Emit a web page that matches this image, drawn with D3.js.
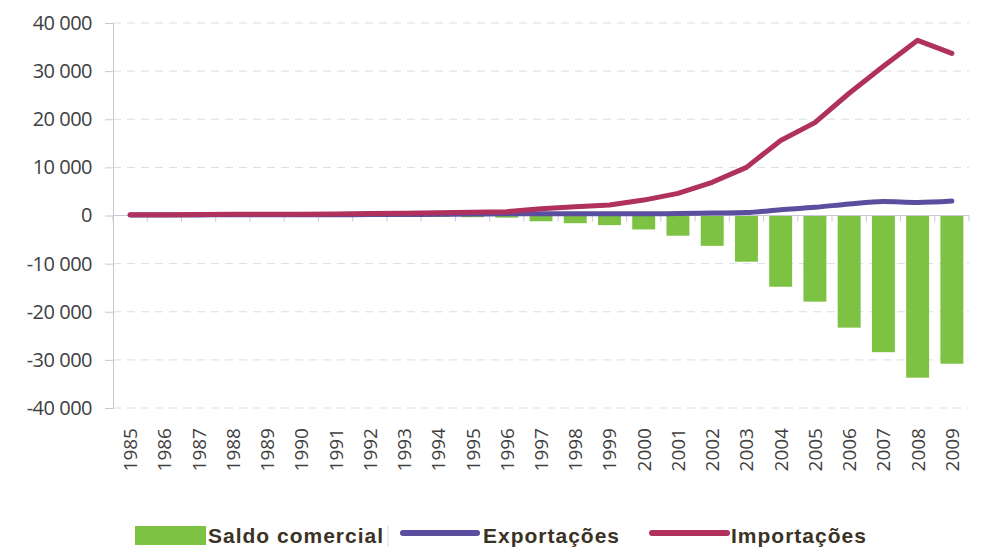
<!DOCTYPE html>
<html>
<head>
<meta charset="utf-8">
<script src="https://cdn.jsdelivr.net/npm/d3@7"></script>
<style>
  body { margin: 0; background: #fff; }
  svg { display: block; }
</style>
</head>
<body>
<script>
// data
var years = ["1985","1986","1987","1988","1989","1990","1991","1992","1993","1994","1995","1996",
             "1997","1998","1999","2000","2001","2002","2003","2004","2005","2006","2007","2008","2009"];
var saldo = [-50, -60, -80, -100, -100, -120, -150, -200, -250, -300, -350, -450,
             -1200, -1600, -2000, -2900, -4200, -6300, -9600, -14800, -17900, -23300, -28400, -33700, -30800];
var exportacoes = [100, 100, 120, 150, 150, 150, 150, 200, 200, 250, 300, 350,
                   350, 350, 350, 350, 400, 500, 600, 1200, 1700, 2400, 2900, 2700, 3000];
var importacoes = [150, 160, 200, 250, 250, 270, 300, 400, 450, 550, 650, 800,
                   1400, 1800, 2200, 3200, 4600, 6900, 10000, 15600, 19300, 25400, 31000, 36400, 33700];
var yTicks = [40000, 30000, 20000, 10000, 0, -10000, -20000, -30000, -40000];

var W = 992, H = 549;
var plotLeft = 113, plotRight = 969, plotTop = 23, plotBottom = 408;

var svg = d3.select("body").append("svg").attr("width", W).attr("height", H);

var x = d3.scaleBand().domain(years).range([plotLeft, plotRight]).paddingInner(0.33).paddingOuter(0.165);
var xb = d3.scaleBand().domain(years).range([plotLeft, plotRight]); // band edges for ticks
var y = d3.scaleLinear().domain([-40000, 40000]).range([plotBottom, plotTop]);

var fmt = function(v) { return d3.format(",")(v).replace(/,/g, " ").replace("−", "-"); };

// dashed gridlines
svg.append("g").selectAll("line").data(yTicks.filter(function(d) { return d !== 0; }))
  .enter().append("line")
  .attr("x1", plotLeft).attr("x2", plotRight)
  .attr("y1", function(d) { return y(d); }).attr("y2", function(d) { return y(d); })
  .attr("stroke", "#dcdce6").attr("stroke-width", 1).attr("stroke-dasharray", "8,6");

// y axis
var yAxis = d3.axisLeft(y).tickValues(yTicks).tickSize(8).tickPadding(13).tickFormat(fmt);
var gy = svg.append("g").attr("transform", "translate(" + plotLeft + ",0)").call(yAxis);
gy.select(".domain").attr("stroke", "#c8c8d4");
gy.selectAll(".tick line").attr("stroke", "#c8c8d4");
gy.selectAll("text").attr("fill", "#404040").style("font-family", "'Open Sans', sans-serif")
  .style("font-size", "20px").style("letter-spacing", "-0.5px");

// bars
svg.append("g").selectAll("rect").data(years).enter().append("rect")
  .attr("x", function(d) { return x(d); })
  .attr("width", x.bandwidth())
  .attr("y", function(d, i) { return y(Math.max(0, saldo[i])); })
  .attr("height", function(d, i) { return Math.abs(y(saldo[i]) - y(0)); })
  .attr("fill", "#7dc242");

// zero axis with ticks at band edges
svg.append("line").attr("x1", plotLeft).attr("x2", plotRight).attr("y1", y(0)).attr("y2", y(0))
  .attr("stroke", "#c8c8d4");
svg.append("g").selectAll("line").data(years.concat(["end"])).enter().append("line")
  .attr("x1", function(d) { return d === "end" ? plotRight : xb(d); })
  .attr("x2", function(d) { return d === "end" ? plotRight : xb(d); })
  .attr("y1", y(0)).attr("y2", y(0) + 6)
  .attr("stroke", "#c8c8d4");

// lines
var cx = function(d, i) { return x(years[i]) + x.bandwidth() / 2; };

svg.append("path").datum(exportacoes)
  .attr("d", d3.line().x(cx).y(function(d) { return y(d); }).curve(d3.curveMonotoneX))
  .attr("fill", "none").attr("stroke", "#5a4f9e").attr("stroke-width", 5)
  .attr("stroke-linecap", "round").attr("stroke-linejoin", "round");
svg.append("path").datum(importacoes)
  .attr("d", d3.line().x(cx).y(function(d) { return y(d); }))
  .attr("fill", "none").attr("stroke", "#b0305e").attr("stroke-width", 5)
  .attr("stroke-linecap", "round").attr("stroke-linejoin", "round");

// year labels
svg.append("g").selectAll("text").data(years).enter().append("text")
  .attr("transform", function(d) {
    return "translate(" + (x(d) + x.bandwidth() / 2 + 7) + ",428) rotate(-90)";
  })
  .attr("text-anchor", "end")
  .attr("fill", "#404040")
  .style("font-family", "'Open Sans', sans-serif").style("font-size", "19px")
  .text(function(d) { return d; });

// legend
var lg = svg.append("g").style("font-family", "'Liberation Sans', Arial, sans-serif")
  .style("font-size", "21px").style("font-weight", "bold").style("letter-spacing", "1px");
lg.append("rect").attr("x", 135).attr("y", 526).attr("width", 71).attr("height", 19).attr("fill", "#7dc242");
lg.append("text").attr("x", 208).attr("y", 543).attr("fill", "#3b3226").text("Saldo comercial");
lg.append("line").attr("x1", 388).attr("x2", 388).attr("y1", 525).attr("y2", 547).attr("stroke", "#dddddd");
lg.append("line").attr("x1", 403).attr("x2", 477).attr("y1", 533).attr("y2", 533)
  .attr("stroke", "#5a4f9e").attr("stroke-width", 6).attr("stroke-linecap", "round");
lg.append("text").attr("x", 483).attr("y", 543).attr("fill", "#3b3226").text("Exportações");
lg.append("line").attr("x1", 652).attr("x2", 727).attr("y1", 533).attr("y2", 533)
  .attr("stroke", "#b0305e").attr("stroke-width", 6).attr("stroke-linecap", "round");
lg.append("text").attr("x", 731).attr("y", 543).attr("fill", "#3b3226").text("Importações");
</script>
</body>
</html>
